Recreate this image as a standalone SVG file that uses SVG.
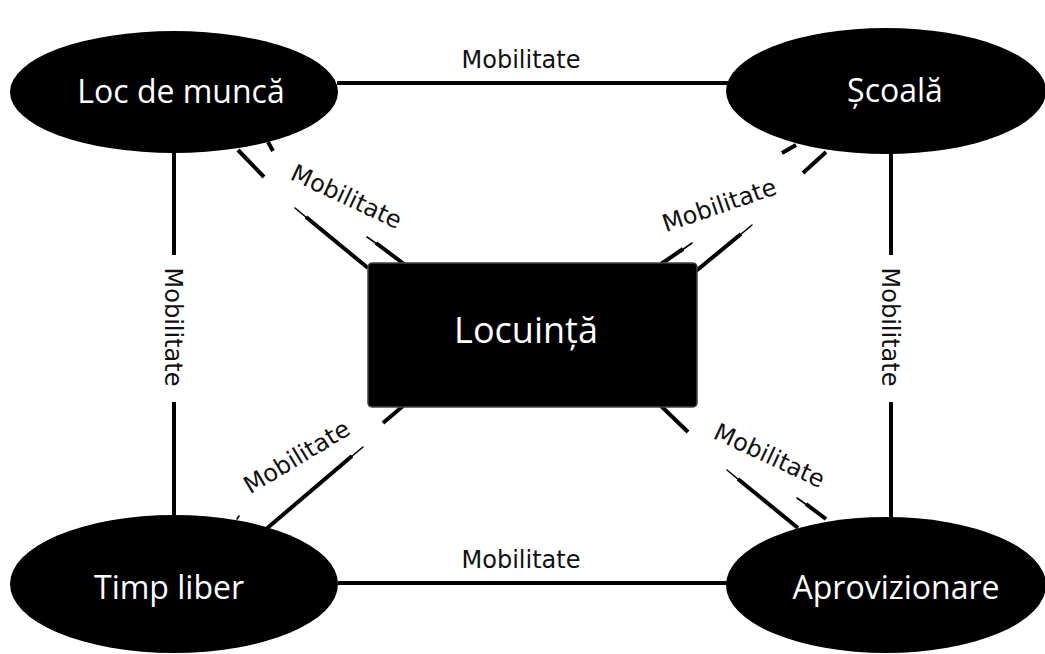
<svg xmlns="http://www.w3.org/2000/svg" width="1045" height="654" viewBox="0 0 1045 654">
<style>
.node{fill:#000}
.nt{font-family:"Open Sans","Liberation Sans",sans-serif;fill:#fff;text-anchor:middle}
.ln{stroke:#000;stroke-width:4;fill:none;stroke-linecap:butt}
.tp{stroke:#000;stroke-width:1.6;fill:none;stroke-linecap:round}
.lb{font-family:"DejaVu Sans","Liberation Sans",sans-serif;font-size:24px;fill:#111;text-anchor:middle}
</style>
<rect width="1045" height="654" fill="#fff"/>
<g id="connectors">
<line class="ln" x1="337" y1="83" x2="728" y2="83"/>
<line class="ln" x1="338" y1="583" x2="728" y2="583"/>
<line class="ln" x1="174" y1="152" x2="174" y2="255"/>
<line class="ln" x1="174" y1="402" x2="174" y2="516"/>
<line class="ln" x1="891" y1="153" x2="891" y2="255"/>
<line class="ln" x1="891" y1="402" x2="891" y2="518"/>
<!-- top-left -->
<line class="ln" x1="238" y1="150" x2="264" y2="177"/>
<line class="ln" x1="268" y1="142" x2="273" y2="151"/>
<line class="tp" x1="295" y1="208" x2="307" y2="218"/>
<line class="ln" x1="306" y1="217" x2="368" y2="268"/>
<line class="tp" x1="367" y1="237" x2="377" y2="244"/>
<line class="ln" x1="376" y1="243" x2="404" y2="264"/>
<!-- top-right -->
<line class="ln" x1="782" y1="153" x2="796" y2="145"/>
<line class="ln" x1="803" y1="173" x2="826" y2="152"/>
<line class="tp" x1="692" y1="243" x2="682" y2="250"/>
<line class="ln" x1="683" y1="249" x2="661" y2="264"/>
<line class="tp" x1="752" y1="225" x2="740" y2="235"/>
<line class="ln" x1="741" y1="234" x2="696" y2="271"/>
<!-- bottom-left -->
<line class="ln" x1="383" y1="423" x2="403" y2="406"/>
<line class="tp" x1="363" y1="447" x2="351" y2="457"/>
<line class="ln" x1="352" y1="456" x2="265" y2="530"/>
<line class="tp" x1="237" y1="519" x2="239" y2="516"/>
<!-- bottom-right -->
<line class="ln" x1="660" y1="405" x2="688" y2="432"/>
<line class="tp" x1="727" y1="470" x2="739" y2="480"/>
<line class="ln" x1="738" y1="479" x2="798" y2="528"/>
<line class="tp" x1="797" y1="498" x2="807" y2="505"/>
<line class="ln" x1="806" y1="504" x2="826" y2="519"/>
<text class="lb" x="521" y="68">Mobilitate</text>
<text class="lb" x="521" y="568">Mobilitate</text>
<text class="lb" transform="translate(165,327) rotate(90)">Mobilitate</text>
<text class="lb" transform="translate(882,327) rotate(90)">Mobilitate</text>
<text class="lb" transform="translate(343,204) rotate(25)">Mobilitate</text>
<text class="lb" transform="translate(722,213) rotate(-19)">Mobilitate</text>
<text class="lb" transform="translate(301,464) rotate(-31)">Mobilitate</text>
<text class="lb" transform="translate(766,463) rotate(25)">Mobilitate</text>
</g>
<g id="node-loc-de-munca">
<ellipse class="node" cx="174" cy="92" rx="164" ry="61"/>
<text class="nt" x="181" y="103" font-size="32">Loc de muncă</text>
</g>
<g id="node-scoala">
<ellipse class="node" cx="886" cy="91" rx="160" ry="63"/>
<text class="nt" x="895" y="102" font-size="32">Școală</text>
</g>
<g id="node-timp-liber">
<ellipse class="node" cx="174" cy="584" rx="164" ry="69"/>
<text class="nt" x="169" y="599" font-size="32">Timp liber</text>
</g>
<g id="node-aprovizionare">
<ellipse class="node" cx="886" cy="585" rx="160" ry="68"/>
<text class="nt" x="896" y="599" font-size="32">Aprovizionare</text>
</g>
<g id="node-locuinta">
<rect class="node" x="368" y="263" width="329" height="144" rx="4" stroke="#444" stroke-width="1.5"/>
<text class="nt" x="526" y="343" font-size="36">Locuință</text>
</g>
</svg>
